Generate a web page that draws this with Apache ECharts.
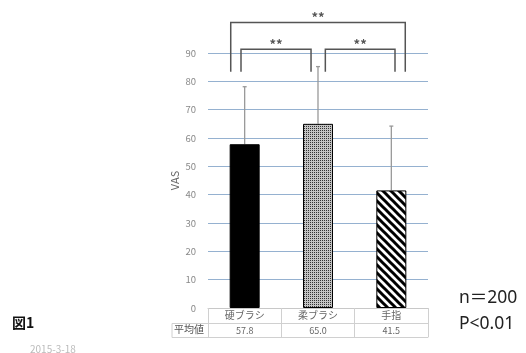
<!DOCTYPE html>
<html lang="ja">
<head>
<meta charset="UTF-8">
<title>図1 VAS</title>
<script src="https://cdn.jsdelivr.net/npm/echarts@6/dist/echarts.min.js"></script>
<style>
  html, body { margin: 0; padding: 0; background: #fff; }
  #chart { width: 526px; height: 353px; }
</style>
</head>
<body>
<div id="chart"></div>
<script>
// データ
var categories = ['硬ブラシ', '柔ブラシ', '手指'];
var means = [57.8, 65.0, 41.5];
var errorTop = [78.1, 85.2, 64.2];
var yTicks = [0, 10, 20, 30, 40, 50, 60, 70, 80, 90];
// 有意差ブラケット: [from, to, 左脚のずれ, 右脚のずれ, 脚の下端, 上端]
var bracketFrom = [0, 0, 1];
var bracketTo = [2, 1, 2];
var bracketLeftOff = [-0.19, -0.05, 0.10];
var bracketRightOff = [0.19, -0.095, 0.05];
var bracketLeg = [83.4, 83.4, 83.4];
var bracketTop = [100.8, 91.3, 91.3];
var bracketLabel = ['**', '**', '**'];

var FONT = '"Noto Sans CJK JP", "Noto Sans", sans-serif';
var GRID_LEFT = 208;

// 柄 (ドット / 斜線)
function dotPattern() {
  var c = document.createElement('canvas');
  c.width = 2; c.height = 2;
  var ctx = c.getContext('2d');
  ctx.fillStyle = '#c4c4c4';
  ctx.fillRect(0, 0, 2, 2);
  ctx.fillStyle = '#333';
  ctx.fillRect(0, 0, 1, 1);
  return c;
}
function stripePattern() {
  var c = document.createElement('canvas');
  c.width = 8; c.height = 8;
  var ctx = c.getContext('2d');
  ctx.fillStyle = '#fff';
  ctx.fillRect(0, 0, 8, 8);
  ctx.strokeStyle = '#000';
  ctx.lineWidth = 3;
  [-8, 0, 8].forEach(function (k) {
    ctx.beginPath();
    ctx.moveTo(-2, -2 + k);
    ctx.lineTo(10, 10 + k);
    ctx.stroke();
  });
  return c;
}
var fills = ['#000', { image: dotPattern(), repeat: 'repeat' }, { image: stripePattern(), repeat: 'repeat' }];

var barData = means.map(function (v, i) {
  return { value: v, itemStyle: { color: fills[i], borderColor: '#000', borderWidth: 1 } };
});
var errData = means.map(function (v, i) { return [i, v, errorTop[i]]; });
var bracketData = bracketFrom.map(function (f, i) {
  return [f, bracketTo[i], bracketLeftOff[i], bracketRightOff[i], bracketLeg[i], bracketTop[i], bracketLabel[i]];
});

var myChart = echarts.init(document.getElementById('chart'));
var option = {
  backgroundColor: '#fff',
  animation: false,
  textStyle: { fontFamily: FONT },
  grid: { left: GRID_LEFT, right: 98, top: 53, bottom: 45 },
  xAxis: [{
    type: 'category',
    data: categories,
    axisLine: { show: true, lineStyle: { color: '#c8c8c8' } },
    axisTick: { show: true, interval: 0, length: 29, lineStyle: { color: '#d0d0d0' } },
    axisLabel: { color: '#666', fontSize: 10, margin: 2, fontFamily: FONT }
  }, {
    type: 'category',
    position: 'bottom',
    offset: 15,
    data: means.map(function (v) { return v.toFixed(1); }),
    axisLine: { show: true, lineStyle: { color: '#d0d0d0' } },
    axisTick: { show: false },
    axisLabel: { color: '#666', fontSize: 9, margin: 3, fontFamily: FONT }
  }, {
    type: 'category',
    position: 'bottom',
    offset: 29,
    data: categories,
    axisLine: { show: true, lineStyle: { color: '#d0d0d0' } },
    axisTick: { show: false },
    axisLabel: { show: false }
  }],
  yAxis: {
    type: 'value',
    min: yTicks[0],
    max: yTicks[yTicks.length - 1],
    interval: 10,
    name: 'VAS',
    nameLocation: 'middle',
    nameGap: 28,
    nameTextStyle: { color: '#666', fontSize: 11, fontFamily: FONT },
    axisLine: { show: false },
    axisTick: { show: false },
    axisLabel: { color: '#888', fontSize: 9.5, margin: 12 },
    splitLine: { lineStyle: { color: '#95b1d0', width: 1 } }
  },
  series: [{
    type: 'bar',
    data: barData,
    barWidth: 30,
    z: 3
  }, {
    type: 'custom',
    data: errData,
    encode: { x: 0, y: [1, 2] },
    z: 2,
    renderItem: function (params, api) {
      var p0 = api.coord([api.value(0), api.value(1)]);
      var p1 = api.coord([api.value(0), api.value(2)]);
      var s = { stroke: '#999', lineWidth: 1.3 };
      return {
        type: 'group',
        children: [
          { type: 'line', shape: { x1: p0[0], y1: p0[1], x2: p1[0], y2: p1[1] }, style: s },
          { type: 'line', shape: { x1: p1[0] - 2, y1: p1[1], x2: p1[0] + 2, y2: p1[1] }, style: s }
        ]
      };
    }
  }, {
    type: 'custom',
    data: bracketData,
    encode: { x: 0, y: 5 },
    clip: false,
    z: 4,
    renderItem: function (params, api) {
      var band = api.size([1, 0])[0];
      var xl = api.coord([api.value(0), 0])[0] + api.value(2) * band;
      var xr = api.coord([api.value(1), 0])[0] + api.value(3) * band;
      var yLeg = api.coord([0, api.value(4)])[1];
      var yTop = api.coord([0, api.value(5)])[1];
      return {
        type: 'group',
        children: [{
          type: 'polyline',
          shape: { points: [[xl, yLeg], [xl, yTop], [xr, yTop], [xr, yLeg]] },
          style: { stroke: '#555', lineWidth: 1.5, fill: null }
        }, {
          type: 'text',
          style: {
            text: api.value(6),
            x: (xl + xr) / 2,
            y: yTop - 5,
            align: 'center',
            verticalAlign: 'middle',
            font: 'bold 13px ' + FONT,
            fill: '#555'
          }
        }]
      };
    }
  }],
  graphic: [
    { type: 'line', shape: { x1: 172, y1: 323.5, x2: GRID_LEFT, y2: 323.5 }, style: { stroke: '#d0d0d0', lineWidth: 1 } },
    { type: 'line', shape: { x1: 172, y1: 337.5, x2: GRID_LEFT, y2: 337.5 }, style: { stroke: '#d0d0d0', lineWidth: 1 } },
    { type: 'line', shape: { x1: 172, y1: 323.5, x2: 172, y2: 337.5 }, style: { stroke: '#d0d0d0', lineWidth: 1 } },
    { type: 'text', left: 174, top: 324, style: { text: '平均値', font: '10px ' + FONT, fill: '#555' } },
    { type: 'text', left: 459, top: 289, style: { text: 'n＝200', font: '17.5px "Noto Sans", "Noto Sans CJK JP", sans-serif', fill: '#222' } },
    { type: 'text', left: 459, top: 315, style: { text: 'P<0.01', font: '17.5px "Noto Sans", "Noto Sans CJK JP", sans-serif', fill: '#222' } },
    { type: 'text', left: 12, top: 316, style: { text: '図1', font: 'bold 14px ' + FONT, fill: '#111' } },
    { type: 'text', left: 30, top: 344, style: { text: '2015-3-18', font: '10px ' + FONT, fill: '#bbb' } }
  ]
};
myChart.setOption(option);
</script>
</body>
</html>
